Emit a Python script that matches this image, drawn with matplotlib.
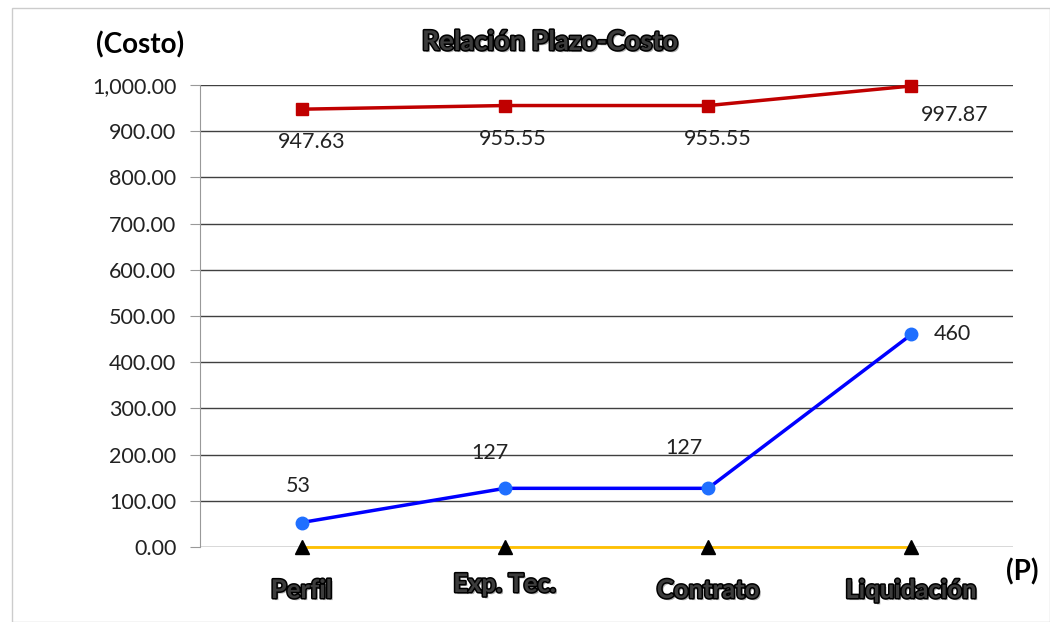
import matplotlib
matplotlib.use("Agg")
import matplotlib.pyplot as plt
import matplotlib.patheffects as pe
from matplotlib.ticker import FuncFormatter, MultipleLocator

plt.rcParams['font.family'] = ['Lato', 'DejaVu Sans']

# datos
etapas = ["Perfil", "Exp. Tec.", "Contrato", "Liquidación"]
costo = [947.63, 955.55, 955.55, 997.87]
plazo = [53, 127, 127, 460]
base = [0, 0, 0, 0]

etiquetas_costo = ["947.63", "955.55", "955.55", "997.87"]
etiquetas_plazo = ["53", "127", "127", "460"]

fig = plt.figure(figsize=(10.5, 6.22), dpi=100)
ax = fig.add_axes([200 / 1050, 1 - 547 / 622, 813 / 1050, 462 / 622])

x = list(range(len(etapas)))
ax.plot(x, base, color='#FFC000', lw=2, marker='^', ms=10, mfc='black', mec='black',
        zorder=3, clip_on=False)
ax.plot(x, costo, color='#C00000', lw=2.5, marker='s', ms=9, zorder=4, clip_on=False)
ax.plot(x, plazo, color='#0000FF', lw=2.5, marker='o', ms=9, mfc='#1F6FFF', mec='#1F6FFF',
        zorder=4, clip_on=False)

# etiquetas de datos (desplazamientos en pixeles)
off_costo = [(10, -33), (8, -33), (10, -33), (43, -29)]
off_plazo = [(-3, 37), (-15, 35), (-24, 40), (41, 0)]
for i in x:
    ax.annotate(etiquetas_costo[i], (i, costo[i]), xytext=off_costo[i], textcoords='offset pixels',
                ha='center', va='center', fontsize=15.5, color='#222222')
    ax.annotate(etiquetas_plazo[i], (i, plazo[i]), xytext=off_plazo[i], textcoords='offset pixels',
                ha='center', va='center', fontsize=15.5, color='#222222')

ax.set_xlim(-0.5, 3.5)
ax.set_ylim(0, 1000)
ax.yaxis.set_major_locator(MultipleLocator(100))
ax.yaxis.set_major_formatter(FuncFormatter(lambda v, p: f"{v:,.2f}"))
ax.grid(axis='y', color='#404040', lw=1)
ax.set_axisbelow(True)
for s in ['top', 'right', 'bottom']:
    ax.spines[s].set_visible(False)
ax.spines['left'].set_color('#999999')
ax.tick_params(axis='y', length=7, color='#999999', labelsize=15.5, pad=10, labelcolor='#222222')
ax.set_xticks(x)
ax.set_xticklabels([])
ax.tick_params(axis='x', length=0)

efecto = [pe.withSimplePatchShadow(offset=(1.5, -1.5), shadow_rgbFace='#999999', alpha=0.8),
          pe.withStroke(linewidth=2.2, foreground='black')]

for i, et in enumerate(etapas):
    xp = ax.transData.transform((i, 0))[0]
    yoff = 590 if i in (0, 2, 3) else 584
    fig.text(xp / 1050, 1 - yoff / 622, et, ha='center', va='center', fontsize=18.5,
             fontweight='bold', color='#3c3c3c', path_effects=efecto)

fig.text(550 / 1050, 1 - 42 / 622, "Relación Plazo-Costo", ha='center', va='center',
         fontsize=19.5, fontweight='bold', color='#3c3c3c', path_effects=efecto)
fig.text(140 / 1050, 1 - 45 / 622, "(Costo)", ha='center', va='center',
         fontsize=20, fontweight='bold', color='black')
fig.text(1022 / 1050, 1 - 572 / 622, "(P)", ha='center', va='center',
         fontsize=20, fontweight='bold', color='black')

# marco exterior
fig.patches.append(plt.Rectangle((12 / 1050, 0), 1 - 12 / 1050, 1 - 8 / 622,
                                 transform=fig.transFigure, fill=False, ec='#cccccc', lw=1))

fig.savefig("out.png", dpi=100)
